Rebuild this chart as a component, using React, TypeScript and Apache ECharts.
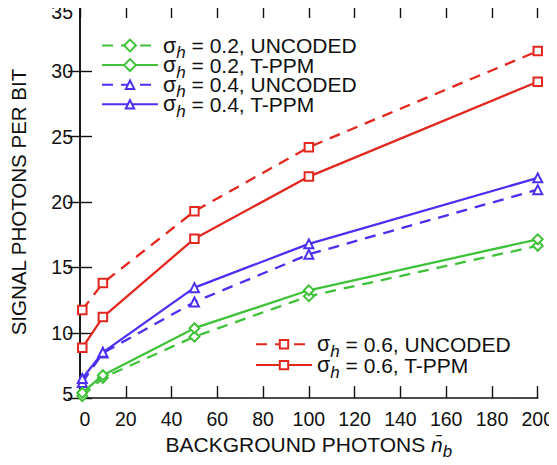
import React, { useEffect, useRef } from "react";
import * as echarts from "echarts";

const xValues = [1, 10, 50, 100, 200];
const xTicks = [0, 20, 40, 60, 80, 100, 120, 140, 160, 180, 200];
const yTicks = [5, 10, 15, 20, 25, 30, 35];

const green02Uncoded = [5.15, 6.55, 9.7, 12.8, 16.65];
const green02Tppm = [5.4, 6.75, 10.35, 13.25, 17.15];
const blue04Uncoded = [6.2, 8.45, 12.35, 16.0, 20.95];
const blue04Tppm = [6.5, 8.5, 13.45, 16.8, 21.85];
const red06Uncoded = [11.75, 13.8, 19.3, 24.2, 31.55];
const red06Tppm = [8.85, 11.2, 17.2, 21.95, 29.2];

const RED = "#e2271f";
const GREEN = "#3fc23a";
const BLUE = "#4a30f2";
const FONT = "Liberation Sans, Arial, sans-serif";
const INK = "#111111";

function mk(name: string, data: number[], color: string, dashed: boolean, symbol: string, size: number, rotate = 0) {
  return {
    name,
    type: "line",
    data: xValues.map((x, i) => [x, data[i]]),
    symbol,
    symbolSize: size,
    symbolRotate: rotate,
    showAllSymbol: true,
    clip: false,
    z: dashed ? 2 : 3,
    lineStyle: { color, width: 2.3, type: dashed ? [11, 8] : "solid" },
    itemStyle: { color: "#ffffff", borderColor: color, borderWidth: 2 },
    emphasis: { disabled: true },
  };
}

export default function App() {
  const ref = useRef<HTMLDivElement>(null);
  useEffect(() => {
    if (!ref.current) return;
    const chart = echarts.init(ref.current, undefined, { renderer: "svg" });
    const rich = {
      s: { fontFamily: FONT, fontSize: 21.5, color: INK, lineHeight: 19 },
      h: { fontFamily: FONT, fontSize: 17, fontStyle: "italic", color: INK, lineHeight: 19, padding: [7, 0, -7, 0] },
      t: { fontFamily: FONT, fontSize: 21, color: INK, lineHeight: 19 },
    };
    const fmt = (name: string) => `{s|σ}{h|h}{t| = ${name}}`;
    const axisLine = { show: true, lineStyle: { color: INK, width: 1.6 } };
    const axisTick = { show: true, inside: true, length: 12, lineStyle: { color: INK, width: 1.4 } };
    const legendCommon = {
      orient: "vertical",
      padding: 0,
      itemWidth: 56,
      itemHeight: 10.5,
      selectedMode: false,
      formatter: fmt,
      textStyle: { rich, fontFamily: FONT, fontSize: 21, color: INK, lineHeight: 19 },
    };
    chart.setOption({
      animation: false,
      backgroundColor: "#ffffff",
      grid: { left: 76, right: 14, top: 6, bottom: 64 },
      legend: [
        {
          ...legendCommon,
          left: 101,
          top: 34.5,
          itemGap: -6.9,
          data: ["0.2, UNCODED", "0.2, T-PPM", "0.4, UNCODED", "0.4, T-PPM"],
        },
        {
          ...legendCommon,
          left: 255,
          top: 333.3,
          itemGap: -5.7,
          data: ["0.6, UNCODED", "0.6, T-PPM"],
        },
      ],
      xAxis: [
        {
          type: "value",
          min: xTicks[0],
          max: xTicks[xTicks.length - 1],
          interval: 20,
          position: "bottom",
          axisLine,
          axisTick,
          splitLine: { show: false },
          axisLabel: {
            fontFamily: FONT,
            fontSize: 19.5,
            color: INK,
            margin: 11,
            formatter: (v: number) => (v === 0 ? "{z|0}" : String(v)),
            rich: { z: { fontFamily: FONT, fontSize: 19.5, color: INK, padding: [0, 0, 0, 10] } },
          },
          name: "BACKGROUND PHOTONS {n|n̄}{b|b}",
          nameLocation: "middle",
          nameGap: 29,
          nameTextStyle: {
            fontFamily: FONT,
            fontSize: 21,
            color: INK,
            lineHeight: 21,
            rich: {
              n: { fontFamily: FONT, fontSize: 21, fontStyle: "italic", color: INK, lineHeight: 21 },
              b: { fontFamily: FONT, fontSize: 17, fontStyle: "italic", color: INK, lineHeight: 21, padding: [7, 0, -7, 0] },
            },
          },
        },
        {
          type: "value",
          min: xTicks[0],
          max: xTicks[xTicks.length - 1],
          interval: 20,
          position: "top",
          axisLine,
          axisTick,
          splitLine: { show: false },
          axisLabel: { show: false },
        },
      ],
      yAxis: [
        {
          type: "value",
          min: yTicks[0],
          max: yTicks[yTicks.length - 1],
          interval: 5,
          position: "left",
          axisLine,
          axisTick,
          splitLine: { show: false },
          axisLabel: {
            fontFamily: FONT,
            fontSize: 19.5,
            color: INK,
            margin: 7,
            formatter: (v: number) => (v === 35 ? "{top|35}" : v === 5 ? "{bot|5}" : String(v)),
            rich: {
              top: { fontFamily: FONT, fontSize: 19.5, color: INK, padding: [12, 0, 0, 0] },
              bot: { fontFamily: FONT, fontSize: 19.5, color: INK, padding: [0, 0, 9, 0] },
            },
          },
          name: "SIGNAL PHOTONS PER BIT",
          nameLocation: "middle",
          nameGap: 51,
          nameTextStyle: { fontFamily: FONT, fontSize: 20.5, color: INK },
        },
        {
          type: "value",
          min: yTicks[0],
          max: yTicks[yTicks.length - 1],
          interval: 5,
          position: "right",
          axisLine,
          axisTick,
          splitLine: { show: false },
          axisLabel: { show: false },
        },
      ],
      series: [
        mk("0.2, UNCODED", green02Uncoded, GREEN, true, "rect", 7, 45),
        mk("0.2, T-PPM", green02Tppm, GREEN, false, "rect", 7, 45),
        mk("0.4, UNCODED", blue04Uncoded, BLUE, true, "triangle", 9),
        mk("0.4, T-PPM", blue04Tppm, BLUE, false, "triangle", 9),
        mk("0.6, UNCODED", red06Uncoded, RED, true, "rect", 8.5),
        mk("0.6, T-PPM", red06Tppm, RED, false, "rect", 8.5),
      ],
    });
    return () => chart.dispose();
  }, []);
  return <div ref={ref} style={{ width: 557, height: 465, marginLeft: -8, marginTop: -8 }} />;
}
